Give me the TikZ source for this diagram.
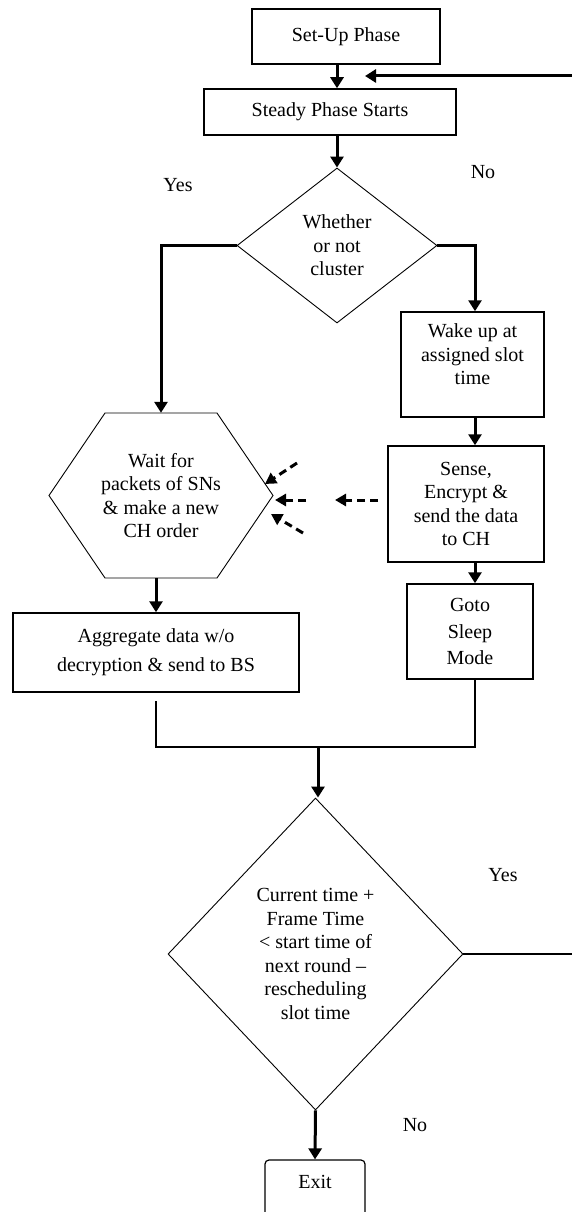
\documentclass[tikz,border=0pt]{standalone}
\usepackage{fontspec}
\setmainfont{Liberation Serif}
\usetikzlibrary{shapes.geometric,arrows.meta,calc}
\begin{document}
\begin{tikzpicture}[x=1pt,y=-1pt,
  every node/.style={font=\fontsize{20}{23.5}\selectfont, align=center, inner sep=0pt},
  box/.style={draw, line width=1.5pt, rectangle},
  dec/.style={draw, diamond, line width=0.9pt},
  flow/.style={line width=3pt, -{Triangle[length=11pt,width=13pt]}},
  link/.style={line width=1.5pt},
  dashflow/.style={line width=3pt, dash pattern=on 8pt off 5pt, -{Triangle[length=11pt,width=12pt]}}]
\useasboundingbox (0,0) rectangle (571,1212);

% nodes
\node[box, minimum width=188pt, minimum height=55pt] (setup) at (346,36.5) {Set-Up Phase};
\node[box, minimum width=252pt, minimum height=46pt] (steady) at (330,112) {Steady Phase Starts};
\node[dec, minimum width=200pt, minimum height=155pt] (d1) at (337,245.5) {Whether\\or not\\cluster};
\node[box, minimum width=143pt, minimum height=105pt] (wake) at (472.5,364.5) {Wake up at\\assigned slot\\time\\[-3.5pt]\mbox{}};
\node[box, minimum width=156pt, minimum height=116pt] (sense) at (466,504) {Sense,\\Encrypt \&\\send the data\\to CH};
\node[box, minimum width=126pt, minimum height=95pt] (goto) at (470,631.5) {Goto\\[3pt]Sleep\\[3pt]Mode};
\node[minimum width=112pt, minimum height=165pt] (hex) at (161,495.5) {Wait for\\packets of SNs\\\& make a new\\CH order};
\draw[line width=0.9pt] ($(hex.center)+(-56,-82.5)$) -- ($(hex.center)+(56,-82.5)$)
  -- ($(hex.center)+(112,0)$) -- ($(hex.center)+(56,82.5)$)
  -- ($(hex.center)+(-56,82.5)$) -- ($(hex.center)+(-112,0)$) -- cycle;
\node[box, minimum width=286pt, minimum height=79pt] (agg) at (156,652.5) {Aggregate data w/o\\[5.5pt]decryption \& send to BS};
\node[dec, minimum width=295pt, minimum height=312pt] (d2) at (315.5,954) {Current time +\\Frame Time\\< start time of\\next round --\\rescheduling\\slot time};
\node[draw, rounded corners=4pt, line width=1.2pt, minimum width=100pt, minimum height=60pt] (exit) at (315,1190) {Exit\\[-7.5pt]\mbox{}};

% labels
\node (yes1) at (178,185) {Yes};
\node (no1) at (483,172) {No};
\node (yes2) at (503,875) {Yes};
\node (no2) at (415,1125) {No};

% connectors
\coordinate (rc) at (475,0);
\coordinate (m) at (318,747);
\draw[flow] ([xshift=-9pt]setup.south) -- ([xshift=-9pt]setup.south |- steady.north);
\draw[flow] (d1.north |- steady.south) -- (d1.north);
\draw[flow] (d1.west) -| (hex.north);
\draw[flow] (d1.east) -| (wake.north -| rc);
\draw[flow] (wake.south -| rc) -- (sense.north -| rc);
\draw[flow] (sense.south -| rc) -- (goto.north -| rc);
\draw[flow] (hex.south -| agg.north) -- (agg.north);
\draw[link] (goto.south -| rc) |- (m) -| ([yshift=-8pt]agg.south);
\draw[flow] (m) -- (m |- d2.north);
\draw[flow] (d2.south) -- (exit.north);

% feedback loop (runs off the right edge)
\coordinate (r1) at (576,954);
\coordinate (r2) at (576,76);
\coordinate (fb) at (365,76);
\draw[line width=2pt] (d2.east) -- (d2.east -| r1);
\draw[flow] (d2.east -| r1) -- (r2) -- (fb);

% dashed arrows
\coordinate (s0) at (378,500); \coordinate (s1) at (335,500);
\coordinate (a0) at (297,463); \coordinate (a1) at (265,484);
\coordinate (b0) at (306,500); \coordinate (b1) at (275,500);
\coordinate (c0) at (303,533); \coordinate (c1) at (271,514);
\draw[dashflow] (s0) -- (s1);
\draw[dashflow] (a0) -- (a1);
\draw[dashflow] (b0) -- (b1);
\draw[dashflow] (c0) -- (c1);
\end{tikzpicture}
\end{document}
